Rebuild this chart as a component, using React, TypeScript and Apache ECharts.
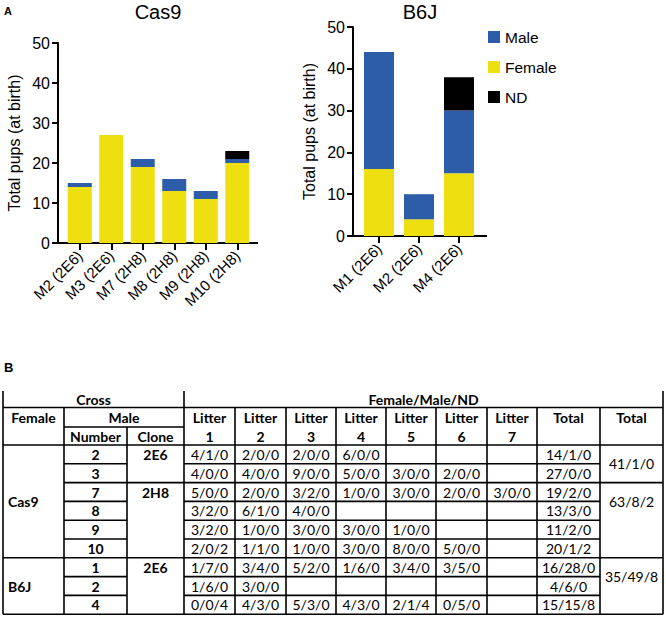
import React, { useEffect, useRef } from 'react';
import * as echarts from 'echarts';

// ---------- Chart data ----------
const cas9Categories = ['M2 (2E6)', 'M3 (2E6)', 'M7 (2H8)', 'M8 (2H8)', 'M9 (2H8)', 'M10 (2H8)'];
const cas9Female = [14, 27, 19, 13, 11, 20];
const cas9Male = [1, 0, 2, 3, 2, 1];
const cas9ND = [0, 0, 0, 0, 0, 2];

const b6jCategories = ['M1 (2E6)', 'M2 (2E6)', 'M4 (2E6)'];
const b6jFemale = [16, 4, 15];
const b6jMale = [28, 6, 15];
const b6jND = [0, 0, 8];

const yMin = 0;
const yMax = 50;
const yInterval = 10;

const legendNames = ['Male', 'Female', 'ND'];

// ---------- Table data ----------
const femaleGroups = [
  { label: 'Cas9', start: 0, end: 6 },
  { label: 'B6J', start: 6, end: 9 },
];
const maleNumbers = ['2', '3', '7', '8', '9', '10', '1', '2', '4'];
const cloneGroups = [
  { label: '2E6', start: 0, end: 2 },
  { label: '2H8', start: 2, end: 6 },
  { label: '2E6', start: 6, end: 9 },
];
const litterHeaders = ['1', '2', '3', '4', '5', '6', '7'];
const litterValues = [
  ['4/1/0', '2/0/0', '2/0/0', '6/0/0', '', '', ''],
  ['4/0/0', '4/0/0', '9/0/0', '5/0/0', '3/0/0', '2/0/0', ''],
  ['5/0/0', '2/0/0', '3/2/0', '1/0/0', '3/0/0', '2/0/0', '3/0/0'],
  ['3/2/0', '6/1/0', '4/0/0', '', '', '', ''],
  ['3/2/0', '1/0/0', '3/0/0', '3/0/0', '1/0/0', '', ''],
  ['2/0/2', '1/1/0', '1/0/0', '3/0/0', '8/0/0', '5/0/0', ''],
  ['1/7/0', '3/4/0', '5/2/0', '1/6/0', '3/4/0', '3/5/0', ''],
  ['1/6/0', '3/0/0', '', '', '', '', ''],
  ['0/0/4', '4/3/0', '5/3/0', '4/3/0', '2/1/4', '0/5/0', ''],
];
const rowTotals = ['14/1/0', '27/0/0', '19/2/0', '13/3/0', '11/2/0', '20/1/2', '16/28/0', '4/6/0', '15/15/8'];
const groupTotals = [
  { label: '41/1/0', start: 0, end: 2 },
  { label: '63/8/2', start: 2, end: 6 },
  { label: '35/49/8', start: 6, end: 9 },
];

// ---------- Layout (styling) ----------
const BLUE = '#2D5DA9';
const YELLOW = '#EEDF10';
const CHART_FONT = '"Liberation Sans", Arial, sans-serif';
const TABLE_FONT = 'Lato, "Open Sans", sans-serif';
const TABLE_FS = 14;

const colX = [3, 64, 127, 184, 235, 286, 336, 386, 436, 487, 537, 600, 663];
const hdrTop = 391;
const hdrRow1 = 407.5;
const hdrSub = 427;
const hdrBottom = 445;
const rowH = 18.8;
const nRows = maleNumbers.length;
const tableBottom = hdrBottom + rowH * nRows;
const LW = 1.6;

function buildTableGraphics() {
  const els: any[] = [];
  const line = (x1: number, y1: number, x2: number, y2: number) =>
    els.push({
      type: 'line',
      silent: true,
      shape: { x1, y1, x2, y2 },
      style: { stroke: '#000', lineWidth: LW },
    });
  const text = (t: string, x: number, y: number, bold: boolean, align = 'center') =>
    els.push({
      type: 'text',
      silent: true,
      x,
      y,
      style: {
        text: t,
        font: `${bold ? 'bold ' : ''}${TABLE_FS}px ${TABLE_FONT}`,
        fill: '#000',
        textAlign: align,
        textVerticalAlign: 'middle',
      },
    });
  const cx = (k: number) => (colX[k] + colX[k + 1]) / 2;
  const rowY = (i: number) => hdrBottom + rowH * i;

  // vertical lines
  line(colX[0], hdrTop, colX[0], tableBottom);
  line(colX[3], hdrTop, colX[3], tableBottom);
  line(colX[12], hdrTop, colX[12], tableBottom);
  [1, 4, 5, 6, 7, 8, 9, 10, 11].forEach((k) => line(colX[k], hdrRow1, colX[k], tableBottom));
  line(colX[2], hdrSub, colX[2], tableBottom);

  // horizontal header lines
  line(colX[0], hdrRow1, colX[12], hdrRow1);
  line(colX[1], hdrSub, colX[3], hdrSub);
  line(colX[0], hdrBottom, colX[12], hdrBottom);
  line(colX[0], tableBottom, colX[12], tableBottom);

  // row lines
  const cloneBounds = cloneGroups.map((g) => g.start).filter((s) => s > 0);
  const femaleBounds = femaleGroups.map((g) => g.start).filter((s) => s > 0);
  const totalBounds = groupTotals.map((g) => g.start).filter((s) => s > 0);
  for (let i = 1; i < nRows; i++) {
    const y = rowY(i);
    line(colX[1], y, colX[2], y);
    line(colX[3], y, colX[11], y);
    if (cloneBounds.includes(i)) line(colX[2], y, colX[3], y);
    if (femaleBounds.includes(i)) line(colX[0], y, colX[1], y);
    if (totalBounds.includes(i)) line(colX[11], y, colX[12], y);
  }

  // header text
  const h1y = (hdrTop + hdrRow1) / 2;
  text('Cross', (colX[0] + colX[3]) / 2, h1y, true);
  text('Female/Male/ND', (colX[3] + colX[12]) / 2, h1y, true);
  text('Female', cx(0), 417, true);
  text('Male', (colX[1] + colX[3]) / 2, 417, true);
  text('Number', cx(1), 436, true);
  text('Clone', cx(2), 436, true);
  litterHeaders.forEach((h, j) => {
    text('Litter', cx(3 + j), 417, true);
    text(h, cx(3 + j), 436, true);
  });
  text('Total', cx(10), 417, true);
  text('Total', cx(11), 417, true);

  // body text
  femaleGroups.forEach((g) => text(g.label, 8, (rowY(g.start) + rowY(g.end)) / 2, true, 'left'));
  maleNumbers.forEach((n, i) => text(n, cx(1), rowY(i) + rowH / 2, true));
  cloneGroups.forEach((g) => text(g.label, cx(2), rowY(g.start) + rowH / 2, true));
  litterValues.forEach((row, i) =>
    row.forEach((v, j) => {
      if (v) text(v, cx(3 + j), rowY(i) + rowH / 2, false);
    })
  );
  rowTotals.forEach((v, i) => text(v, cx(10), rowY(i) + rowH / 2, false));
  groupTotals.forEach((g) => text(g.label, cx(11), rowY(g.start + 1), false));

  return els;
}

function axisPair(gridIndex: number, categories: string[]) {
  const xAxis = {
    type: 'category',
    gridIndex,
    data: categories,
    axisLine: { show: true, lineStyle: { color: '#000', width: 2 } },
    axisTick: { show: true, alignWithLabel: true, length: 7, lineStyle: { color: '#000', width: 2 } },
    axisLabel: {
      rotate: 45,
      interval: 0,
      margin: 10,
      fontSize: 15,
      color: '#000',
      fontFamily: CHART_FONT,
    },
  };
  const yAxis = {
    type: 'value',
    gridIndex,
    min: yMin,
    max: yMax,
    interval: yInterval,
    offset: 6,
    name: 'Total pups (at birth)',
    nameLocation: 'middle',
    nameGap: 36,
    nameTextStyle: { fontSize: 16, color: '#000', fontFamily: CHART_FONT },
    axisLine: { show: true, lineStyle: { color: '#000', width: 2 } },
    axisTick: { show: true, length: 6, lineStyle: { color: '#000', width: 2 } },
    axisLabel: { fontSize: 16, color: '#000', margin: 8, fontFamily: CHART_FONT },
    splitLine: { show: false },
  };
  return { xAxis, yAxis };
}

export default function App() {
  const ref = useRef<HTMLDivElement>(null);
  useEffect(() => {
    if (!ref.current) return;
    const chart = echarts.init(ref.current, undefined, { renderer: 'svg' });
    const a = axisPair(0, cas9Categories);
    const b = axisPair(1, b6jCategories);

    const mkSeries = (name: string, data: number[], color: string, idx: number, stack: string, width: number) => ({
      name,
      type: 'bar',
      stack,
      xAxisIndex: idx,
      yAxisIndex: idx,
      data,
      barWidth: width,
      itemStyle: { color },
    });

    const extLine = (x1: number, x2: number, y: number) => ({
      type: 'line',
      silent: true,
      shape: { x1, y1: y, x2, y2: y },
      style: { stroke: '#000', lineWidth: 2 },
    });

    const option: any = {
      animation: false,
      textStyle: { fontFamily: CHART_FONT },
      grid: [
        { left: 64, top: 43, width: 189, height: 200 },
        { left: 359, top: 27, width: 120, height: 209 },
      ],
      xAxis: [a.xAxis, b.xAxis],
      yAxis: [a.yAxis, b.yAxis],
      legend: {
        orient: 'vertical',
        left: 483,
        top: 24,
        itemWidth: 12,
        itemHeight: 12,
        itemGap: 14,
        itemStyle: { borderWidth: 0 },
        data: legendNames.map((n) => ({ name: n, icon: 'rect' })),
        textStyle: { fontSize: 15.5, color: '#000', fontFamily: CHART_FONT },
        selectedMode: false,
      },
      series: [
        mkSeries('Female', cas9Female, YELLOW, 0, 'cas9', 24),
        mkSeries('Male', cas9Male, BLUE, 0, 'cas9', 24),
        mkSeries('ND', cas9ND, '#000', 0, 'cas9', 24),
        mkSeries('Female', b6jFemale, YELLOW, 1, 'b6j', 30),
        mkSeries('Male', b6jMale, BLUE, 1, 'b6j', 30),
        mkSeries('ND', b6jND, '#000', 1, 'b6j', 30),
      ],
      graphic: [
        {
          type: 'text',
          x: 158,
          y: 12,
          style: { text: 'Cas9', font: `20px ${CHART_FONT}`, fill: '#000', textAlign: 'center', textVerticalAlign: 'middle' },
        },
        {
          type: 'text',
          x: 420,
          y: 12,
          style: { text: 'B6J', font: `20px ${CHART_FONT}`, fill: '#000', textAlign: 'center', textVerticalAlign: 'middle' },
        },
        {
          type: 'text',
          x: 4,
          y: 11,
          style: { text: 'A', font: `bold 11px ${CHART_FONT}`, fill: '#000', textAlign: 'left', textVerticalAlign: 'middle' },
        },
        {
          type: 'text',
          x: 4,
          y: 367,
          style: { text: 'B', font: `bold 13px ${CHART_FONT}`, fill: '#000', textAlign: 'left', textVerticalAlign: 'middle' },
        },
        extLine(57, 64, 243),
        extLine(253, 258, 243),
        extLine(352, 359, 236),
        extLine(479, 487, 236),
        ...buildTableGraphics(),
      ],
    };
    chart.setOption(option);
    return () => chart.dispose();
  }, []);
  return (
    <div
      ref={ref}
      style={{ position: 'fixed', left: 0, top: 0, width: 666, height: 617, background: '#fff' }}
    />
  );
}
